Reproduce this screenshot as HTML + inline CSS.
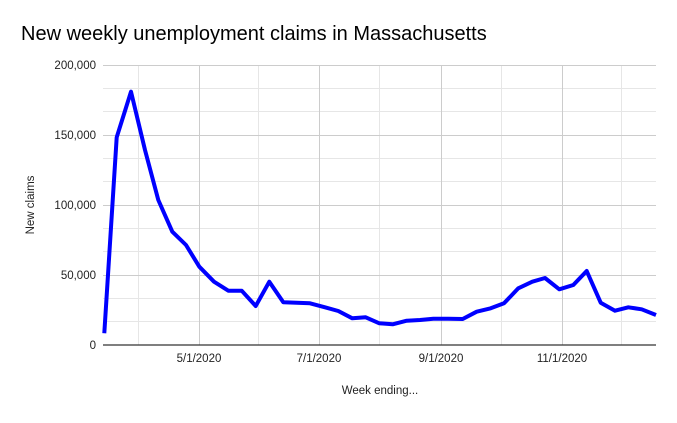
<!DOCTYPE html>
<html><head><meta charset="utf-8"><style>
body{margin:0;background:#fff;}
svg text{font-family:"Liberation Sans",Arial,sans-serif;}
</style></head><body>
<svg width="677" height="418" viewBox="0 0 677 418" xmlns="http://www.w3.org/2000/svg">
<rect width="677" height="418" fill="#fff"/>
<text x="21" y="40" font-size="20" fill="#000">New weekly unemployment claims in Massachusetts</text>
<g stroke="#e6e6e6" stroke-width="1">
<line x1="103" x2="656" y1="88.5" y2="88.5"/><line x1="103" x2="656" y1="111.5" y2="111.5"/>
<line x1="103" x2="656" y1="158.5" y2="158.5"/><line x1="103" x2="656" y1="181.5" y2="181.5"/>
<line x1="103" x2="656" y1="228.5" y2="228.5"/><line x1="103" x2="656" y1="251.5" y2="251.5"/>
<line x1="103" x2="656" y1="298.5" y2="298.5"/><line x1="103" x2="656" y1="321.5" y2="321.5"/>
<line x1="138.5" x2="138.5" y1="65" y2="345"/><line x1="258.5" x2="258.5" y1="65" y2="345"/>
<line x1="379.5" x2="379.5" y1="65" y2="345"/><line x1="501.5" x2="501.5" y1="65" y2="345"/>
<line x1="621.5" x2="621.5" y1="65" y2="345"/>
</g>
<g stroke="#cccccc" stroke-width="1">
<line x1="103" x2="656" y1="65.5" y2="65.5"/><line x1="103" x2="656" y1="135.5" y2="135.5"/>
<line x1="103" x2="656" y1="205.5" y2="205.5"/><line x1="103" x2="656" y1="275.5" y2="275.5"/>
<line x1="199.5" x2="199.5" y1="65" y2="345"/><line x1="319.5" x2="319.5" y1="65" y2="345"/>
<line x1="441.5" x2="441.5" y1="65" y2="345"/><line x1="562.5" x2="562.5" y1="65" y2="345"/>
</g>
<line x1="103" x2="656" y1="345" y2="345" stroke="#333" stroke-width="1.2"/>
<g font-size="11.5" fill="#222" text-anchor="end">
<text x="96" y="69">200,000</text><text x="96" y="139">150,000</text>
<text x="96" y="209">100,000</text><text x="96" y="279">50,000</text><text x="96" y="349">0</text>
</g>
<g font-size="11.5" fill="#222" text-anchor="middle">
<text x="199" y="362">5/1/2020</text><text x="319" y="362">7/1/2020</text>
<text x="441" y="362">9/1/2020</text><text x="562" y="362">11/1/2020</text>
<text x="380" y="394">Week ending...</text>
</g>
<text x="0" y="0" font-size="11.5" fill="#222" text-anchor="middle" transform="translate(34,205) rotate(-90)">New claims</text>
<polyline fill="none" stroke="#0000ff" stroke-width="4" stroke-linejoin="round" points="104.3,333.3 116.7,137.3 131,91.7 145,150 158.3,200 172.3,231.7 186,245 199.3,266.7 214,281.7 228.3,290.7 241.7,290.7 255.7,306 269.3,281.7 283.3,302.3 296.7,302.7 310,303.3 325,307.3 338.3,311 352.3,318.3 365.7,317.3 379.3,323.3 392.7,324.3 406.7,320.7 420,320 433.3,318.7 448.3,318.7 462.7,319 476.7,311.7 490.7,308.3 504,303.3 518.3,288.3 532.3,281.7 545,278 559.3,289.3 573.3,285 586.7,271 600.7,302.7 615,310.7 628.3,307.3 641.7,309.3 656,315"/>
</svg>
</body></html>
